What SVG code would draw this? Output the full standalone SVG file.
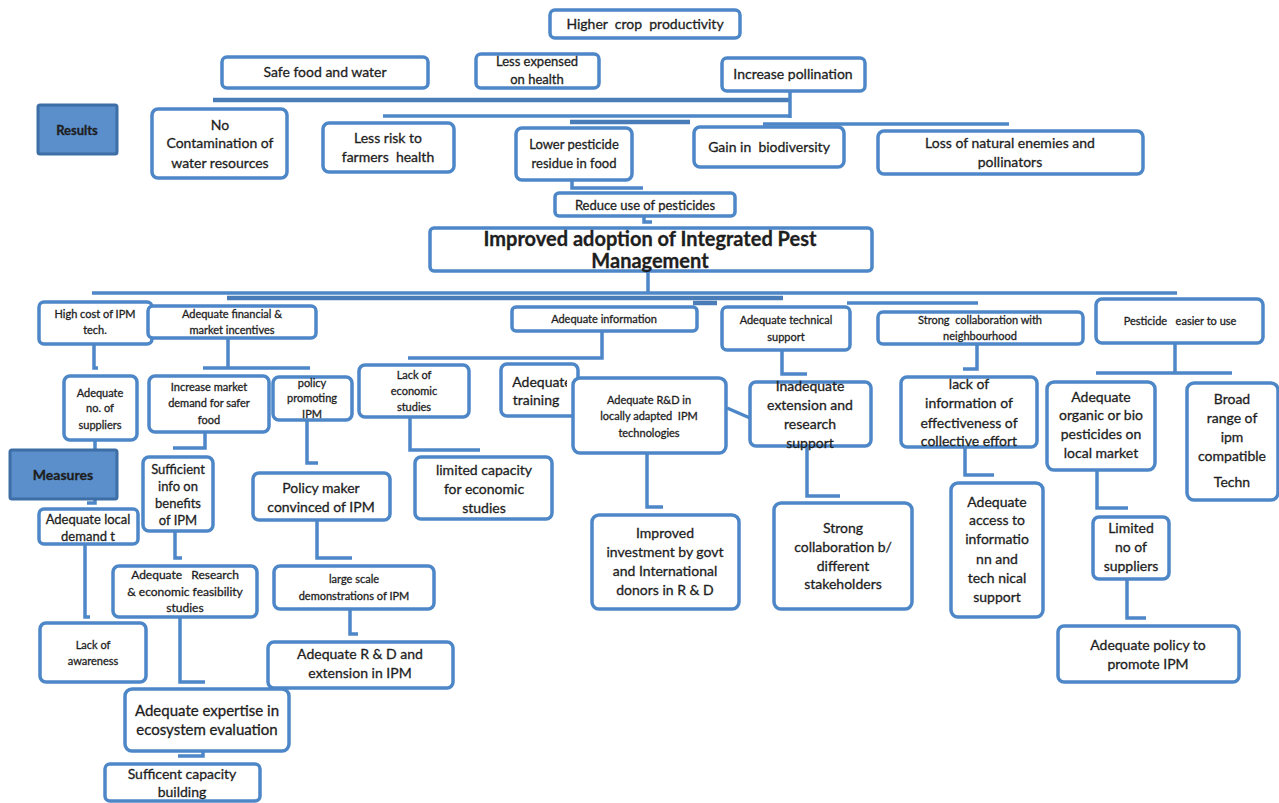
<svg xmlns="http://www.w3.org/2000/svg" width="1279" height="803" viewBox="0 0 1279 803" xml:space="preserve">
  <style>
    .box { fill: #ffffff; stroke: #4d87c7; stroke-width: 3.5; }
    .key { fill: #5a8fcb; stroke: #3d6ea6; stroke-width: 3; }
    .ln { fill: none; stroke: #4d87c7; stroke-width: 3.5; stroke-linejoin: miter; }
    .bar { fill: none; stroke: #4a7cb8; stroke-width: 4.5; }
    text { font-family: Lato, "Open Sans", "Liberation Sans", sans-serif; fill: #1e1e1e; stroke: #1e1e1e; stroke-width: 0.3; text-anchor: middle; white-space: pre; }
    .s11 { font-size: 11px; }
    .s12 { font-size: 12px; }
    .s13 { font-size: 13px; }
    .s14 { font-size: 14px; }
    .s15 { font-size: 15px; }
    .b { font-weight: bold; }
    .title { font-size: 20px; font-weight: bold; }
  </style>
  <defs>
    <clipPath id="trainingClip">
      <rect x="500" y="360" width="67" height="60"/>
    </clipPath>
  </defs>

  <!-- connectors -->
  <g id="connectors">
    <!-- results level -->
    <path class="bar" d="M213,100 H790"/>
    <path class="ln" d="M790,91 V118"/>
    <path class="ln" d="M383,116 H790"/>
    <path class="bar" d="M570,122 H690"/>
    <path class="ln" d="M763,124 H1009"/>
    <path class="ln" d="M572,180 V188 H643"/>
    <path class="ln" d="M644,216 V222 H652"/>
    <!-- below central goal -->
    <path class="ln" d="M648,272 V294"/>
    <path class="ln" d="M92,293 H1177"/>
    <path class="bar" d="M227,298 H783"/>
    <path class="bar" d="M693,303 H717"/>
    <path class="ln" d="M847,303 H978"/>
    <!-- second level -->
    <path class="ln" d="M94,344 V368 H98"/>
    <path class="ln" d="M228,338 V368 M203,368 H310"/>
    <path class="ln" d="M602,331 V358 H408"/>
    <path class="ln" d="M782,350 V374 H807"/>
    <path class="ln" d="M977,344 V369 H963"/>
    <path class="ln" d="M1175,343 V373 M1096,373 H1232"/>
    <!-- third level and below -->
    <path class="ln" d="M95,440 V450"/>
    <path class="ln" d="M95,499 V503 H87"/>
    <path class="ln" d="M205,432 V448 H173"/>
    <path class="ln" d="M175,531 V558 H182"/>
    <path class="ln" d="M307,420 V463 H318"/>
    <path class="ln" d="M317,520 V558 H352"/>
    <path class="ln" d="M350,609 V634 H358"/>
    <path class="ln" d="M85,544 V617 H90"/>
    <path class="ln" d="M180,617 V682 H205"/>
    <path class="ln" d="M203,751 V756 H178"/>
    <path class="ln" d="M410,417 V450 H480"/>
    <path class="ln" d="M727,408 L750,418"/>
    <path class="ln" d="M647,453 V507 H663"/>
    <path class="ln" d="M807,446 V496 H840"/>
    <path class="ln" d="M965,447 V475 H994"/>
    <path class="ln" d="M1097,470 V508 H1128"/>
    <path class="ln" d="M1127,579 V618 H1146"/>
  </g>

  <!-- results -->
  <g id="higher-crop-productivity">
    <rect class="box" x="550" y="10" width="190" height="28" rx="5"/>
    <text class="s14" x="645" y="29">Higher  crop  productivity</text>
  </g>
  <g id="safe-food-water">
    <rect class="box" x="222" y="57" width="206" height="31" rx="5"/>
    <text class="s14" x="325" y="77">Safe food and water</text>
  </g>
  <g id="less-expensed-health">
    <rect class="box" x="476" y="54" width="123" height="34" rx="5"/>
    <text class="s13" x="537" y="66">Less expensed</text>
    <text class="s13" x="537" y="84">on health</text>
  </g>
  <g id="increase-pollination">
    <rect class="box" x="722" y="58" width="143" height="33" rx="5"/>
    <text class="s14" x="793" y="79">Increase pollination</text>
  </g>
  <g id="results-label">
    <rect class="key" x="38" y="105" width="79" height="49" rx="2"/>
    <text class="s13 b" x="77" y="135">Results</text>
  </g>
  <g id="no-contamination">
    <rect class="box" x="152" y="109" width="135" height="69" rx="6"/>
    <text class="s14" x="220" y="130">No</text>
    <text class="s14" x="220" y="148">Contamination of</text>
    <text class="s14" x="220" y="168">water resources</text>
  </g>
  <g id="less-risk-farmers">
    <rect class="box" x="323" y="123" width="131" height="49" rx="6"/>
    <text class="s14" x="388" y="143">Less risk to</text>
    <text class="s14" x="388" y="162">farmers  health</text>
  </g>
  <g id="lower-residue">
    <rect class="box" x="516" y="128" width="116" height="52" rx="6"/>
    <text class="s13" x="574" y="149">Lower pesticide</text>
    <text class="s13" x="574" y="168">residue in food</text>
  </g>
  <g id="gain-biodiversity">
    <rect class="box" x="694" y="127" width="150" height="40" rx="6"/>
    <text class="s14" x="769" y="152">Gain in  biodiversity</text>
  </g>
  <g id="loss-natural-enemies">
    <rect class="box" x="878" y="131" width="265" height="43" rx="6"/>
    <text class="s14" x="1010" y="148">Loss of natural enemies and</text>
    <text class="s14" x="1010" y="167">pollinators</text>
  </g>
  <g id="reduce-pesticides">
    <rect class="box" x="555" y="193" width="180" height="23" rx="4"/>
    <text class="s13" x="645" y="210">Reduce use of pesticides</text>
  </g>
  <g id="improved-adoption-ipm">
    <rect class="box" x="430" y="228" width="442" height="43" rx="4"/>
    <text class="title" x="650" y="246">Improved adoption of Integrated Pest</text>
    <text class="title" x="650" y="268">Management</text>
  </g>

  <!-- measures: second level -->
  <g id="high-cost-ipm">
    <rect class="box" x="39" y="302" width="113" height="42" rx="5"/>
    <text class="s11" x="95" y="318">High cost of IPM</text>
    <text class="s11" x="95" y="334">tech.</text>
  </g>
  <g id="financial-incentives">
    <rect class="box" x="148" y="306" width="168" height="32" rx="5"/>
    <text class="s11" x="232" y="318">Adequate financial &amp;</text>
    <text class="s11" x="232" y="334">market incentives</text>
  </g>
  <g id="adequate-information">
    <rect class="box" x="512" y="307" width="185" height="24" rx="4"/>
    <text class="s11" x="604" y="323">Adequate information</text>
  </g>
  <g id="technical-support">
    <rect class="box" x="722" y="307" width="128" height="43" rx="5"/>
    <text class="s11" x="786" y="324">Adequate technical</text>
    <text class="s11" x="786" y="341">support</text>
  </g>
  <g id="collaboration-neighbourhood">
    <rect class="box" x="878" y="312" width="205" height="32" rx="5"/>
    <text class="s11" x="980" y="324">Strong  collaboration with</text>
    <text class="s11" x="980" y="340">neighbourhood</text>
  </g>
  <g id="pesticide-easier">
    <rect class="box" x="1096" y="299" width="167" height="44" rx="6"/>
    <text class="s11" x="1180" y="325">Pesticide   easier to use</text>
  </g>

  <!-- measures: third level -->
  <g id="adequate-suppliers">
    <rect class="box" x="64" y="376" width="73" height="64" rx="6"/>
    <text class="s11" x="100" y="397">Adequate</text>
    <text class="s11" x="100" y="412">no. of</text>
    <text class="s11" x="100" y="429">suppliers</text>
  </g>
  <g id="market-demand">
    <rect class="box" x="149" y="376" width="120" height="56" rx="6"/>
    <text class="s11" x="209" y="391">Increase market</text>
    <text class="s11" x="209" y="407">demand for safer</text>
    <text class="s11" x="209" y="424">food</text>
  </g>
  <g id="policy-promoting">
    <rect class="box" x="273" y="377" width="79" height="43" rx="6"/>
    <text class="s11" x="312" y="387">policy</text>
    <text class="s11" x="312" y="402">promoting</text>
    <text class="s11" x="312" y="418">IPM</text>
  </g>
  <g id="lack-economic-studies">
    <rect class="box" x="359" y="365" width="110" height="52" rx="6"/>
    <text class="s11" x="414" y="379">Lack of</text>
    <text class="s11" x="414" y="395">economic</text>
    <text class="s11" x="414" y="411">studies</text>
  </g>
  <g id="adequate-training">
    <rect class="box" x="501" y="364" width="77" height="52" rx="6"/>
    <g clip-path="url(#trainingClip)">
      <text class="s14" x="542" y="387">Adequate</text>
      <text class="s14" x="536" y="405">training</text>
    </g>
  </g>
  <g id="rd-local-ipm">
    <rect class="box" x="573" y="378" width="153" height="75" rx="7"/>
    <text class="s11" x="649" y="404">Adequate R&amp;D in</text>
    <text class="s11" x="649" y="420">locally adapted  IPM</text>
    <text class="s11" x="649" y="437">technologies</text>
  </g>
  <g id="inadequate-extension">
    <rect class="box" x="750" y="382" width="121" height="64" rx="6"/>
    <text class="s14" x="810" y="391">Inadequate</text>
    <text class="s14" x="810" y="410">extension and</text>
    <text class="s14" x="810" y="429">research</text>
    <text class="s14" x="810" y="448">support</text>
  </g>
  <g id="lack-info-collective">
    <rect class="box" x="901" y="377" width="136" height="70" rx="6"/>
    <text class="s14" x="969" y="389">lack of</text>
    <text class="s14" x="969" y="408">information of</text>
    <text class="s14" x="969" y="428">effectiveness of</text>
    <text class="s14" x="969" y="446">collective effort</text>
  </g>
  <g id="organic-bio-pesticides">
    <rect class="box" x="1047" y="382" width="108" height="88" rx="7"/>
    <text class="s14" x="1101" y="402">Adequate</text>
    <text class="s14" x="1101" y="420">organic or bio</text>
    <text class="s14" x="1101" y="439">pesticides on</text>
    <text class="s14" x="1101" y="458">local market</text>
  </g>
  <g id="broad-range-ipm">
    <rect class="box" x="1187" y="383" width="91" height="117" rx="7"/>
    <text class="s14" x="1232" y="404">Broad</text>
    <text class="s14" x="1232" y="423">range of</text>
    <text class="s14" x="1232" y="442">ipm</text>
    <text class="s14" x="1232" y="461">compatible</text>
    <text class="s14" x="1232" y="487">Techn</text>
  </g>

  <!-- measures: lower levels -->
  <g id="measures-label">
    <rect class="key" x="10" y="450" width="107" height="49" rx="2"/>
    <text class="s14 b" x="63" y="480">Measures</text>
  </g>
  <g id="local-demand">
    <rect class="box" x="39" y="509" width="99" height="35" rx="5"/>
    <text class="s13" x="88" y="524">Adequate local</text>
    <text class="s13" x="88" y="541">demand t</text>
  </g>
  <g id="sufficient-info">
    <rect class="box" x="143" y="457" width="70" height="74" rx="6"/>
    <text class="s13" x="178" y="474">Sufficient</text>
    <text class="s13" x="178" y="491">info on</text>
    <text class="s13" x="178" y="508">benefits</text>
    <text class="s13" x="178" y="525">of IPM</text>
  </g>
  <g id="policy-maker">
    <rect class="box" x="253" y="473" width="137" height="47" rx="6"/>
    <text class="s14" x="321" y="493">Policy maker</text>
    <text class="s14" x="321" y="512">convinced of IPM</text>
  </g>
  <g id="limited-capacity-economic">
    <rect class="box" x="415" y="457" width="137" height="62" rx="6"/>
    <text class="s14" x="484" y="475">limited capacity</text>
    <text class="s14" x="484" y="494">for economic</text>
    <text class="s14" x="484" y="513">studies</text>
  </g>
  <g id="improved-investment">
    <rect class="box" x="592" y="515" width="147" height="94" rx="7"/>
    <text class="s14" x="665" y="538">Improved</text>
    <text class="s14" x="665" y="557">investment by govt</text>
    <text class="s14" x="665" y="576">and International</text>
    <text class="s14" x="665" y="595">donors in R &amp; D</text>
  </g>
  <g id="collaboration-stakeholders">
    <rect class="box" x="774" y="503" width="138" height="106" rx="7"/>
    <text class="s14" x="843" y="533">Strong</text>
    <text class="s14" x="843" y="552">collaboration b/</text>
    <text class="s14" x="843" y="571">different</text>
    <text class="s14" x="843" y="589">stakeholders</text>
  </g>
  <g id="access-information">
    <rect class="box" x="951" y="483" width="92" height="134" rx="7"/>
    <text class="s14" x="997" y="507">Adequate</text>
    <text class="s14" x="997" y="525">access to</text>
    <text class="s14" x="997" y="544">informatio</text>
    <text class="s14" x="997" y="564">nn and</text>
    <text class="s14" x="997" y="583">tech nical</text>
    <text class="s14" x="997" y="602">support</text>
  </g>
  <g id="limited-suppliers">
    <rect class="box" x="1093" y="517" width="76" height="62" rx="6"/>
    <text class="s14" x="1131" y="533">Limited</text>
    <text class="s14" x="1131" y="552">no of</text>
    <text class="s14" x="1131" y="571">suppliers</text>
  </g>
  <g id="research-feasibility">
    <rect class="box" x="113" y="566" width="144" height="51" rx="6"/>
    <text class="s12" x="185" y="579">Adequate   Research</text>
    <text class="s12" x="185" y="596">&amp; economic feasibility</text>
    <text class="s12" x="185" y="612">studies</text>
  </g>
  <g id="large-scale-demos">
    <rect class="box" x="274" y="566" width="160" height="43" rx="6"/>
    <text class="s11" x="354" y="583">large scale</text>
    <text class="s11" x="354" y="600">demonstrations of IPM</text>
  </g>
  <g id="lack-awareness">
    <rect class="box" x="40" y="623" width="106" height="59" rx="6"/>
    <text class="s11" x="93" y="649">Lack of</text>
    <text class="s11" x="93" y="665">awareness</text>
  </g>
  <g id="rd-extension-ipm">
    <rect class="box" x="268" y="642" width="185" height="46" rx="6"/>
    <text class="s14" x="360" y="659">Adequate R &amp; D and</text>
    <text class="s14" x="360" y="678">extension in IPM</text>
  </g>
  <g id="adequate-policy-ipm">
    <rect class="box" x="1058" y="626" width="181" height="56" rx="6"/>
    <text class="s14" x="1148" y="650">Adequate policy to</text>
    <text class="s14" x="1148" y="669">promote IPM</text>
  </g>
  <g id="expertise-ecosystem">
    <rect class="box" x="125" y="689" width="164" height="62" rx="7"/>
    <text class="s15" x="207" y="716">Adequate expertise in</text>
    <text class="s15" x="207" y="735">ecosystem evaluation</text>
  </g>
  <g id="capacity-building">
    <rect class="box" x="105" y="764" width="155" height="37" rx="5"/>
    <text class="s14" x="182" y="779">Sufficent capacity</text>
    <text class="s14" x="182" y="797">building</text>
  </g>
</svg>
